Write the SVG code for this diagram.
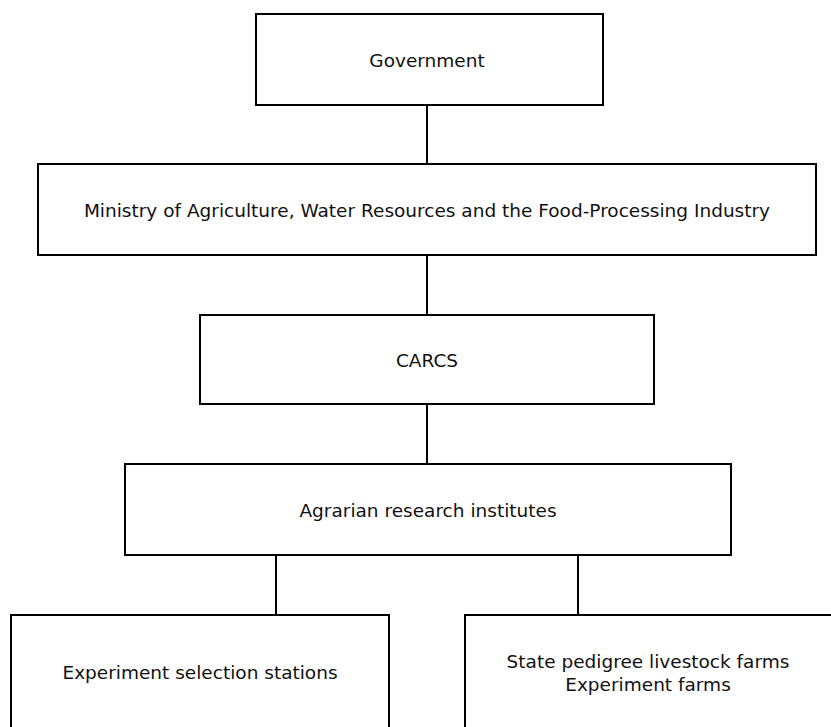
<svg xmlns="http://www.w3.org/2000/svg" width="831" height="727" viewBox="0 0 831 727">
<style>
.box{fill:#fff;stroke:#000;stroke-width:2}
.lbl{font-family:"DejaVu Sans",Verdana,sans-serif;font-size:18.5px;fill:#111;text-anchor:middle}
.conn line{stroke:#000;stroke-width:2}
</style>
<rect width="831" height="727" fill="#fff"/>
<g class="conn">
<line x1="427" y1="105" x2="427" y2="164"/>
<line x1="427" y1="255" x2="427" y2="315"/>
<line x1="427" y1="404" x2="427" y2="464"/>
<line x1="276" y1="555" x2="276" y2="615"/>
<line x1="578" y1="555" x2="578" y2="615"/>
</g>
<g id="government"><rect class="box" x="256" y="14" width="347" height="91"/><text class="lbl" x="427" y="67">Government</text></g>
<g id="ministry"><rect class="box" x="38" y="164" width="778" height="91"/><text class="lbl" x="427" y="217">Ministry of Agriculture, Water Resources and the Food-Processing Industry</text></g>
<g id="carcs"><rect class="box" x="200" y="315" width="454" height="89"/><text class="lbl" x="427" y="367">CARCS</text></g>
<g id="institutes"><rect class="box" x="125" y="464" width="606" height="91"/><text class="lbl" x="428" y="517">Agrarian research institutes</text></g>
<g id="stations"><rect class="box" x="11" y="615" width="378" height="130"/><text class="lbl" x="200" y="679">Experiment selection stations</text></g>
<g id="farms"><rect class="box" x="465" y="615" width="380" height="130"/><text class="lbl" x="648" y="668">State pedigree livestock farms</text><text class="lbl" x="648" y="691">Experiment farms</text></g>
</svg>
